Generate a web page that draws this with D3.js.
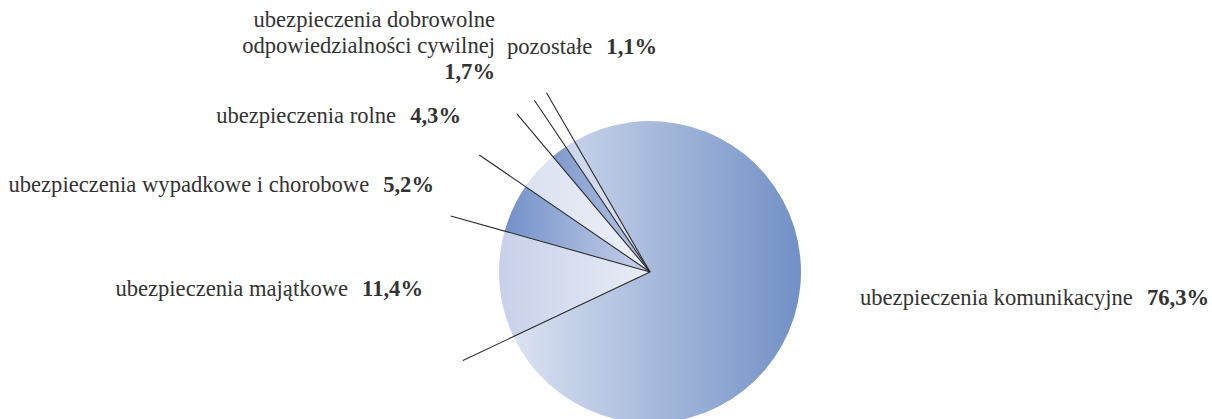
<!DOCTYPE html>
<html>
<head>
<meta charset="utf-8">
<script src="https://cdn.jsdelivr.net/npm/d3@7/dist/d3.min.js"></script>
<style>
  html, body { margin: 0; padding: 0; background: #ffffff; }
  svg { display: block; }
  text { font-family: "Liberation Serif", "DejaVu Serif", "Times New Roman", serif; font-size: 22.6px; fill: #333333; }
  .val { font-weight: bold; }
</style>
</head>
<body>
<svg id="chart" width="1212" height="419"></svg>
<script>
// ---- data ----
const categories = [
  "ubezpieczenia komunikacyjne",
  "ubezpieczenia majątkowe",
  "ubezpieczenia wypadkowe i chorobowe",
  "ubezpieczenia rolne",
  "ubezpieczenia dobrowolne odpowiedzialności cywilnej",
  "pozostałe"
];
const values = [76.3, 11.4, 5.2, 4.3, 1.7, 1.1];
const valueLabels = ["76,3%", "11,4%", "5,2%", "4,3%", "1,7%", "1,1%"];
// label lines (how category text is broken into lines)
const labelLines = [
  ["ubezpieczenia komunikacyjne"],
  ["ubezpieczenia majątkowe"],
  ["ubezpieczenia wypadkowe i chorobowe"],
  ["ubezpieczenia rolne"],
  ["ubezpieczenia dobrowolne", "odpowiedzialności cywilnej", ""],
  ["pozostałe"]
];

// ---- layout (not data) ----
const cx = 650, cy = 272, R = 151, lineLen = 207;
const startDeg = -30;
const labelLayout = [
  { x: 860, y: 305, anchor: "start" },
  { x: 423, y: 296, anchor: "end" },
  { x: 434, y: 192, anchor: "end" },
  { x: 461, y: 123, anchor: "end" },
  { x: 495, y: 27, anchor: "end" },
  { x: 507, y: 54, anchor: "start" }
];
const gradStops = [
  ["#e0e6f3", "#7190c6"],
  ["#c8d1ea", "#eaedf6"],
  ["#7391c8", "#c9d3eb"],
  ["#dbe1f0", "#eef1f8"],
  ["#809acd", "#b9c7e5"],
  ["#cdd6ec", "#e2e7f3"]
];
const gradX = [
  [500, 802],
  [500, 650],
  [505, 650],
  [525, 650],
  [553, 650],
  [573, 650]
];

const svg = d3.select("#chart");
const defs = svg.append("defs");
gradStops.forEach((s, i) => {
  const gr = defs.append("linearGradient")
    .attr("id", "g" + i)
    .attr("gradientUnits", "userSpaceOnUse")
    .attr("x1", gradX[i][0] - cx).attr("y1", 0)
    .attr("x2", gradX[i][1] - cx).attr("y2", 0);
  gr.append("stop").attr("offset", "0%").attr("stop-color", s[0]);
  gr.append("stop").attr("offset", "100%").attr("stop-color", s[1]);
});

const rad = Math.PI / 180;
const pie = d3.pie().sort(null).value(d => d)
  .startAngle(startDeg * rad).endAngle((startDeg + 360) * rad);
const arcs = pie(values);
const arc = d3.arc().innerRadius(0).outerRadius(R);

const g = svg.append("g").attr("transform", `translate(${cx},${cy})`);
g.selectAll("path.slice").data(arcs).enter().append("path")
  .attr("class", "slice")
  .attr("d", arc)
  .attr("fill", (d, i) => `url(#g${i})`);

// boundary lines through slice edges
g.selectAll("line.lead").data(arcs).enter().append("line")
  .attr("class", "lead")
  .attr("x1", 0).attr("y1", 0)
  .attr("x2", d => d3.pointRadial(d.endAngle, lineLen)[0])
  .attr("y2", d => d3.pointRadial(d.endAngle, lineLen)[1])
  .attr("stroke", "#2a2a2a")
  .attr("stroke-width", 1.1);

// labels
const lineH = 26;
categories.forEach((c, i) => {
  const L = labelLayout[i];
  const lines = labelLines[i];
  const t = svg.append("text")
    .attr("x", L.x).attr("y", L.y)
    .attr("text-anchor", L.anchor);
  if (lines.length === 1) {
    t.append("tspan").text(lines[0]);
    t.append("tspan").attr("class", "val").attr("dx", 14).text(valueLabels[i]);
  } else {
    lines.forEach((ln, j) => {
      const sp = t.append("tspan").attr("x", L.x).attr("y", L.y + j * lineH);
      if (j < lines.length - 1) sp.text(ln);
      else sp.attr("class", "val").text(valueLabels[i]);
    });
  }
});
</script>
</body>
</html>
